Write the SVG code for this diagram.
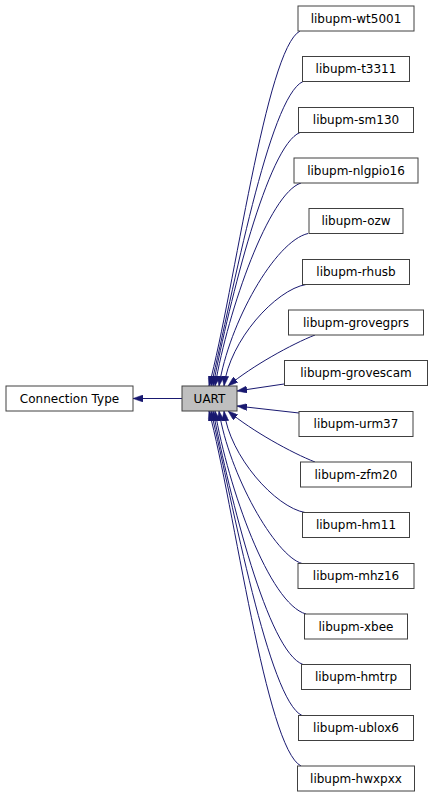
<svg xmlns="http://www.w3.org/2000/svg" width="432" height="797" viewBox="0 0 432 797">
<style>
.n rect{fill:#ffffff;stroke:#404040;stroke-width:1}
.n text{font-family:"DejaVu Sans",sans-serif;font-size:12px;fill:#000000;text-anchor:middle}
.e path{fill:none;stroke:#191970;stroke-width:1;marker-end:url(#ah)}
</style>
<defs>
<marker id="ah" markerUnits="userSpaceOnUse" viewBox="0 0 10 7" refX="10" refY="3.5" markerWidth="10" markerHeight="7" orient="auto">
<path d="M0,0 L10,3.5 L0,7 z" fill="#191970" stroke="#191970" stroke-width="0.5"/>
</marker>
</defs>
<rect width="432" height="797" fill="#ffffff"/>
<g class="e" id="edges">
<path d="M182,398.5 L133,398.5"/>
<path d="M300,31 C266,49 234.5,290 209,386"/>
<path d="M303,81.5 C269,96.7 232.9,292.8 211,386"/>
<path d="M300,132.5 C267.8,145.2 230.1,299.3 213,386"/>
<path d="M301,183 C269.2,193.2 228.2,309.3 215,386"/>
<path d="M308,233.5 C275.1,241.1 229,322.9 219,386"/>
<path d="M306,284.5 C275.7,289.6 229.7,340.3 224,386"/>
<path d="M315,335 C292,344 252,366 228,386"/>
<path d="M284,384 L237,391"/>
<path d="M299,413 L237,406"/>
<path d="M315,462 C292,453 252,431 228,411"/>
<path d="M305,512.5 C275.7,507.4 229.7,456.7 224,411"/>
<path d="M302,563.5 C275.1,555.9 229,474.1 219,411"/>
<path d="M306,614 C269.2,603.8 228.2,487.7 215,411"/>
<path d="M303,664.5 C267.8,651.8 230.1,497.7 213,411"/>
<path d="M302,715.5 C269,700.3 232.9,504.2 211,411"/>
<path d="M301,766 C266,748 234.5,507 209,411"/>
</g>
<g class="n" id="node-connection-type"><rect x="6" y="386" width="127" height="25"/><text x="69.5" y="402.5">Connection Type</text></g>
<g class="n" id="node-uart"><rect x="182" y="386" width="55" height="25" style="fill:#bfbfbf"/><text x="209.5" y="402.5">UART</text></g>
<g class="n" id="node-wt5001"><rect x="298" y="6" width="116" height="25"/><text x="356" y="22.5">libupm-wt5001</text></g>
<g class="n" id="node-t3311"><rect x="302.5" y="56.5" width="107" height="25"/><text x="356" y="73">libupm-t3311</text></g>
<g class="n" id="node-sm130"><rect x="298.5" y="107.5" width="115" height="25"/><text x="356" y="124">libupm-sm130</text></g>
<g class="n" id="node-nlgpio16"><rect x="294" y="158" width="124" height="25"/><text x="356" y="174.5">libupm-nlgpio16</text></g>
<g class="n" id="node-ozw"><rect x="309" y="208.5" width="94" height="25"/><text x="356" y="225">libupm-ozw</text></g>
<g class="n" id="node-rhusb"><rect x="302.5" y="259.5" width="107" height="25"/><text x="356" y="276">libupm-rhusb</text></g>
<g class="n" id="node-grovegprs"><rect x="288.5" y="310" width="135" height="25"/><text x="356" y="326.5">libupm-grovegprs</text></g>
<g class="n" id="node-grovescam"><rect x="284.5" y="360.5" width="143" height="25"/><text x="356" y="377">libupm-grovescam</text></g>
<g class="n" id="node-urm37"><rect x="299" y="411.5" width="114" height="25"/><text x="356" y="428">libupm-urm37</text></g>
<g class="n" id="node-zfm20"><rect x="300.5" y="462" width="111" height="25"/><text x="356" y="478.5">libupm-zfm20</text></g>
<g class="n" id="node-hm11"><rect x="302.5" y="512.5" width="107" height="25"/><text x="356" y="529">libupm-hm11</text></g>
<g class="n" id="node-mhz16"><rect x="298" y="563.5" width="116" height="25"/><text x="356" y="580">libupm-mhz16</text></g>
<g class="n" id="node-xbee"><rect x="304.5" y="614" width="103" height="25"/><text x="356" y="630.5">libupm-xbee</text></g>
<g class="n" id="node-hmtrp"><rect x="301.5" y="664.5" width="109" height="25"/><text x="356" y="681">libupm-hmtrp</text></g>
<g class="n" id="node-ublox6"><rect x="298.5" y="715.5" width="115" height="25"/><text x="356" y="732">libupm-ublox6</text></g>
<g class="n" id="node-hwxpxx"><rect x="297.5" y="766" width="117" height="25"/><text x="356" y="782.5">libupm-hwxpxx</text></g>
</svg>
